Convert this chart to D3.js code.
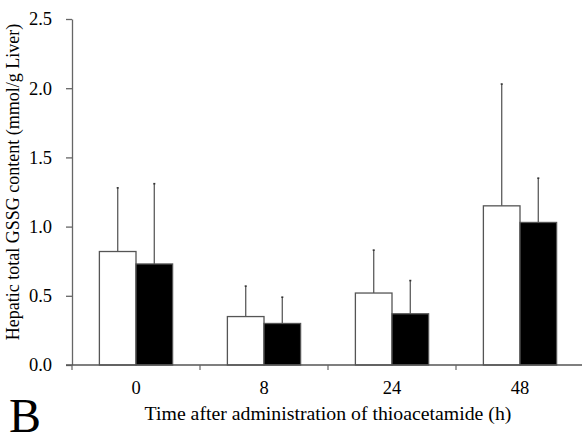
<!DOCTYPE html>
<html>
<head>
<meta charset="utf-8">
<script src="https://cdn.jsdelivr.net/npm/d3@7"></script>
<style>
  body { margin: 0; background: #fff; }
</style>
</head>
<body>
<svg id="chart" width="582" height="443"></svg>
<script>
// data
const categories = ["0", "8", "24", "48"];
const series = ["white", "black"];
const meanWhite = [0.82, 0.35, 0.52, 1.15];
const meanBlack = [0.73, 0.30, 0.37, 1.03];
const sdWhite = [0.46, 0.22, 0.31, 0.88];
const sdBlack = [0.58, 0.19, 0.24, 0.32];
const yTicks = [0, 0.5, 1.0, 1.5, 2.0, 2.5];

const serif = "'Liberation Serif', 'Times New Roman', serif";
const svg = d3.select("#chart");
const plotLeft = 72, plotRight = 584, plotTop = 19, plotBottom = 365;

const x0 = d3.scaleBand().domain(categories).range([plotLeft, plotRight]);
const bw = x0.bandwidth();
const x1 = d3.scaleBand().domain(series).range([bw / 2 - bw * 0.286, bw / 2 + bw * 0.286]);
const y = d3.scaleLinear().domain([0, 2.5]).range([plotBottom, plotTop]);

const rows = categories.map((c, i) => ({
  cat: c,
  vals: [
    { s: "white", v: meanWhite[i], e: sdWhite[i] },
    { s: "black", v: meanBlack[i], e: sdBlack[i] }
  ]
}));

// error bars first so bar outline sits on top
const groups = svg.selectAll("g.grp").data(rows).enter().append("g")
  .attr("class", "grp")
  .attr("transform", d => `translate(${x0(d.cat)},0)`);

groups.selectAll("line.err").data(d => d.vals).enter().append("line")
  .attr("class", "err")
  .attr("x1", d => x1(d.s) + x1.bandwidth() / 2)
  .attr("x2", d => x1(d.s) + x1.bandwidth() / 2)
  .attr("y1", d => y(d.v))
  .attr("y2", d => y(d.v + d.e))
  .attr("stroke", "#666")
  .attr("stroke-width", 1.4);

groups.selectAll("line.cap").data(d => d.vals).enter().append("line")
  .attr("class", "cap")
  .attr("x1", d => x1(d.s) + x1.bandwidth() / 2 - 1)
  .attr("x2", d => x1(d.s) + x1.bandwidth() / 2 + 1)
  .attr("y1", d => y(d.v + d.e))
  .attr("y2", d => y(d.v + d.e))
  .attr("stroke", "#333")
  .attr("stroke-width", 1.6);

groups.selectAll("rect").data(d => d.vals).enter().append("rect")
  .attr("x", d => x1(d.s))
  .attr("y", d => y(d.v))
  .attr("width", x1.bandwidth())
  .attr("height", d => y(0) - y(d.v))
  .attr("fill", d => d.s === "black" ? "#000" : "#fff")
  .attr("stroke", "#555")
  .attr("stroke-width", 1.3);

// y axis
const yAxis = svg.append("g")
  .attr("transform", `translate(${plotLeft},0)`)
  .call(d3.axisLeft(y).tickValues(yTicks).tickFormat(d3.format(".1f")).tickSize(6).tickSizeOuter(0).tickPadding(14));
yAxis.select(".domain").attr("stroke", "#666").attr("stroke-width", 1.3);
yAxis.selectAll(".tick line").attr("stroke", "#666").attr("stroke-width", 1.3);
yAxis.selectAll("text").style("font-size", "18.5px").style("font-family", serif).attr("fill", "#000");

// x axis: line plus ticks at band edges
const edges = categories.map(c => x0(c)).concat([plotRight]);
svg.append("line")
  .attr("x1", plotLeft - 6).attr("x2", plotRight)
  .attr("y1", plotBottom).attr("y2", plotBottom)
  .attr("stroke", "#555").attr("stroke-width", 1.3);
svg.selectAll("line.xt").data(edges).enter().append("line")
  .attr("class", "xt")
  .attr("x1", d => d).attr("x2", d => d)
  .attr("y1", plotBottom).attr("y2", plotBottom + 5)
  .attr("stroke", "#666").attr("stroke-width", 1.2);
svg.selectAll("text.xl").data(categories).enter().append("text")
  .attr("class", "xl")
  .attr("x", d => x0(d) + bw / 2)
  .attr("y", 394)
  .attr("text-anchor", "middle")
  .style("font-family", serif)
  .style("font-size", "18.5px")
  .text(d => d);

// titles
svg.append("text")
  .attr("x", (plotLeft + plotRight) / 2)
  .attr("y", 420)
  .attr("text-anchor", "middle")
  .style("font-family", serif)
  .style("font-size", "19.8px")
  .text("Time after administration of thioacetamide (h)");

svg.append("text")
  .attr("transform", "translate(19,182) rotate(-90)")
  .attr("text-anchor", "middle")
  .style("font-family", serif)
  .style("font-size", "18px")
  .text("Hepatic total GSSG content (mmol/g Liver)");

svg.append("text")
  .attr("x", 9)
  .attr("y", 432)
  .style("font-family", serif)
  .style("font-size", "48px")
  .text("B");
</script>
</body>
</html>
